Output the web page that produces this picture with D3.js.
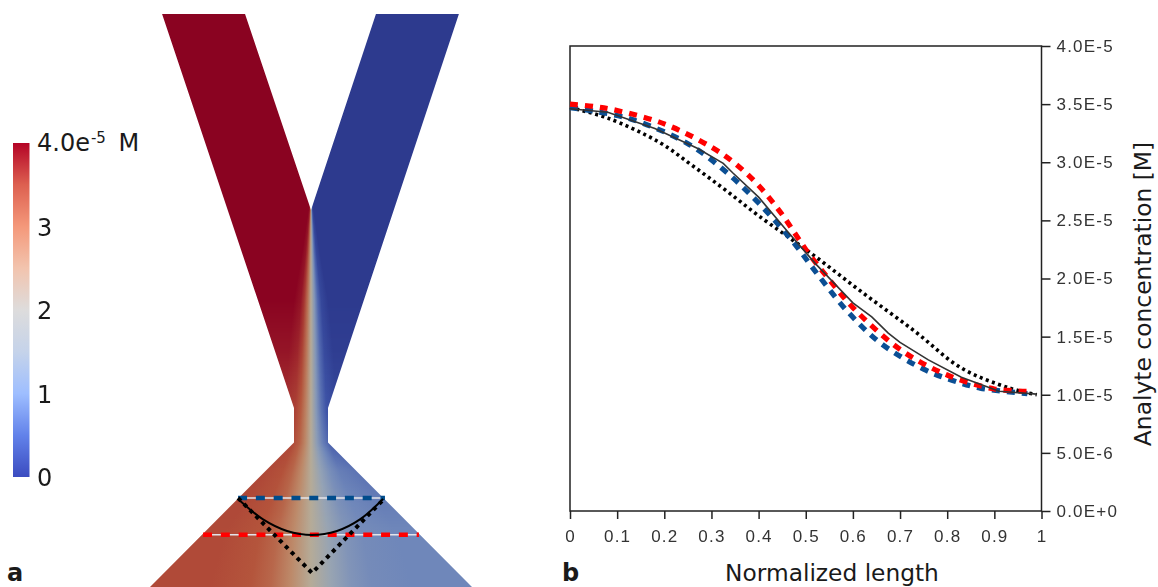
<!DOCTYPE html>
<html>
<head>
<meta charset="utf-8">
<script src="https://cdn.jsdelivr.net/npm/d3@7"></script>
<style>
  html, body { margin: 0; padding: 0; background: #fff; }
  svg { display: block; }
  .tick-label { font-family: "Liberation Sans", sans-serif; font-size: 17px; letter-spacing: 1.2px; fill: #333; }
  .big-label { font-family: "DejaVu Sans", sans-serif; fill: #1a1a1a; }
</style>
</head>
<body>
<svg id="chart" width="1158" height="587"></svg>
<script>
// ---- panel b values, normalized length vs concentration (in 1e-5 M)
const redX = [0, 0.05, 0.1, 0.2, 0.3, 0.35, 0.4, 0.45, 0.5, 0.55, 0.6, 0.7, 0.8, 0.9, 0.97];
const redY = [3.5, 3.48, 3.445, 3.33, 3.13, 2.99, 2.8, 2.55, 2.25, 1.99, 1.75, 1.39, 1.17, 1.05, 1.03];

const blueX = [0, 0.05, 0.13, 0.25, 0.33, 0.4, 0.47, 0.53, 0.59, 0.66, 0.75, 0.81, 0.87, 0.97];
const blueY = [3.47, 3.44, 3.37, 3.16, 2.92, 2.65, 2.33, 2.01, 1.71, 1.44, 1.22, 1.125, 1.057, 1.01];

const solidX = [0, 0.08, 0.18, 0.27, 0.325, 0.345, 0.4, 0.46, 0.52, 0.6, 0.64, 0.675, 0.7, 0.76, 0.83, 0.91, 0.99];
const solidY = [3.46, 3.43, 3.29, 3.12, 2.99, 2.91, 2.7, 2.41, 2.13, 1.79, 1.67, 1.53, 1.45, 1.3, 1.15, 1.03, 1.005];

const dotX = [0, 0.08, 0.19, 0.26, 0.33, 0.4, 0.51, 0.62, 0.73, 0.83, 0.93, 0.99];
const dotY = [3.47, 3.38, 3.17, 2.97, 2.76, 2.54, 2.22, 1.88, 1.55, 1.23, 1.06, 1.0];

const xTicks = [0, 0.1, 0.2, 0.3, 0.4, 0.5, 0.6, 0.7, 0.8, 0.9, 1];
const xTickLabels = ["0", "0.1", "0.2", "0.3", "0.4", "0.5", "0.6", "0.7", "0.8", "0.9", "1"];
const yTicks = [0, 0.5, 1, 1.5, 2, 2.5, 3, 3.5, 4];
const yTickLabels = ["0.0E+0", "5.0E-6", "1.0E-5", "1.5E-5", "2.0E-5", "2.5E-5", "3.0E-5", "3.5E-5", "4.0E-5"];

// ---- panel a colour bar
const barTicks = [0, 1, 2, 3];
const barStops = [0, 0.125, 0.25, 0.375, 0.5, 0.625, 0.75, 0.875, 1];
const barColors = ["#3b4cc0", "#6282ea", "#9ebeff", "#c5d3ea", "#dddcdc", "#f2c4ae", "#f4987a", "#dd6050", "#b40426"];

// ---- panel a channel, in throat half widths (u across, v down from the top)
const channelU = [-8.76, -3.88, 0, 3.82, 8.7, 1, 1, 9.47, -9.47, -1, -1];
const channelV = [0, 0, 11.53, 0, 0, 23.18, 25.2, 33.7, 33.7, 25.2, 23.18];

// mixing field, read along the channel
const fieldV = [11.5, 13.9, 16.8, 19.8, 23.2, 25.2, 26.8, 30.4, 33.8];
const fieldW = [0.06, 0.2, 0.4, 0.52, 0.6, 0.7, 1.1, 2.0, 2.4];
const fieldRed = [0.5, 0.5, 0.5, 0.46, 0.38, 0.36, 0.34, 0.33, 0.33];
const fieldBlue = [0.5, 0.5, 0.5, 0.49, 0.46, 0.42, 0.35, 0.3, 0.3];
const profileD = [-2.5, -1.5, -1, -0.5, 0, 0.5, 1, 1.5, 2.5];
const profileC = [-1, -0.92, -0.76, -0.45, 0, 0.45, 0.76, 0.92, 1];
const fieldStops = [0, 0.08, 0.2, 0.35, 0.5, 0.65, 0.8, 0.9, 1];
const fieldColors = ["#2d3a8e", "#3f55a8", "#6f87ba", "#95a3b5", "#b5ab98", "#bd8a6a", "#b5563c", "#a32f2f", "#8a0321"];

// lines drawn over the outlet
const blueCutU = [-4.29, 4.35], blueCutV = [28.47, 28.47];
const redCutU = [-6.35, 6.35], redCutV = [30.63, 30.63];
const arcU = [-4.29, -2.82, -1.41, 0.06, 1.53, 2.88, 4.24];
const arcV = [28.53, 29.73, 30.41, 30.65, 30.41, 29.73, 28.53];
const veeU = [-4.29, 0.06, 4.35];
const veeV = [28.47, 32.88, 28.47];

const svg = d3.select("#chart");
const defs = svg.append("defs");
const zip = (a, b) => a.map((d, i) => [d, b[i]]);

// ---------- panel a
const flowX = d3.scaleLinear().domain([-1, 1]).range([294, 328]);
const flowY = d3.scaleLinear().domain([0, 34]).range([14, 592]);
const fieldColor = d3.scaleLinear().domain(fieldStops).range(fieldColors);
const widthAt = d3.scaleLinear().domain(fieldV).range(fieldW).clamp(true);
const redAt = d3.scaleLinear().domain(fieldV).range(fieldRed).clamp(true);
const blueAt = d3.scaleLinear().domain(fieldV).range(fieldBlue).clamp(true);
const profile = d3.scaleLinear().domain(profileD).range(profileC).clamp(true);

const flowLine = d3.line().x(d => flowX(d[0])).y(d => flowY(d[1]));

defs.append("clipPath").attr("id", "channel")
  .append("path")
  .attr("d", flowLine(zip(channelU, channelV)) + "Z");

const panelA = svg.append("g").attr("class", "panel-a").style("filter", "blur(0.5px)");
const field = panelA.append("g").attr("clip-path", "url(#channel)");

// the field is painted row by row, each row with its own gradient across the channel
d3.range(14, 587).forEach(row => {
  const v = flowY.invert(row);
  const w = widthAt(v);
  const id = "row" + row;
  const grad = defs.append("linearGradient").attr("id", id)
    .attr("gradientUnits", "userSpaceOnUse")
    .attr("x1", flowX(-2.5 * w)).attr("x2", flowX(2.5 * w))
    .attr("y1", 0).attr("y2", 0);
  profileD.forEach(d => {
    const p = profile(d);
    // d < 0 is the left, red side
    const c = p < 0 ? 0.5 - redAt(v) * p : 0.5 - blueAt(v) * p;
    grad.append("stop")
      .attr("offset", (d - profileD[0]) / 5)
      .attr("stop-color", fieldColor(c));
  });
  field.append("rect")
    .attr("x", flowX(-10)).attr("width", flowX(10) - flowX(-10))
    .attr("y", row).attr("height", 1)
    .attr("shape-rendering", "crispEdges")
    .attr("fill", `url(#${id})`);
});

// cut lines with the pale core under the dashes
[[blueCutU, blueCutV, "#004c8c"], [redCutU, redCutV, "#ff0000"]].forEach(([u, v, col]) => {
  panelA.append("path").attr("d", flowLine(zip(u, v)))
    .attr("fill", "none").attr("stroke", "#e4e4ea").attr("stroke-width", 1.6);
  panelA.append("path").attr("d", flowLine(zip(u, v)))
    .attr("fill", "none").attr("stroke", col).attr("stroke-width", 4.5)
    .attr("stroke-dasharray", "9 8.8");
});

panelA.append("path")
  .attr("d", flowLine.curve(d3.curveCatmullRom)(zip(arcU, arcV)))
  .attr("fill", "none").attr("stroke", "#000").attr("stroke-width", 2);
flowLine.curve(d3.curveLinear);
panelA.append("path")
  .attr("d", flowLine(zip(veeU, veeV)))
  .attr("fill", "none").attr("stroke", "#000").attr("stroke-width", 4)
  .attr("stroke-dasharray", "4 4.4");

// colour bar
const barY = d3.scaleLinear().domain([0, 4]).range([477, 143]);
const barGrad = defs.append("linearGradient").attr("id", "barGrad")
  .attr("x1", 0).attr("x2", 0).attr("y1", 1).attr("y2", 0);
barStops.forEach((s, i) => {
  barGrad.append("stop").attr("offset", s).attr("stop-color", barColors[i]);
});
panelA.append("rect")
  .attr("x", 13).attr("y", barY(4))
  .attr("width", 16.5).attr("height", barY(0) - barY(4))
  .attr("fill", "url(#barGrad)");

panelA.selectAll(".bar-label").data(barTicks).join("text")
  .attr("class", "big-label bar-label")
  .attr("x", 37).attr("y", d => barY(d) + 9)
  .style("font-size", "24px")
  .text(d => d);

const topLabel = svg.append("text").attr("class", "big-label")
  .attr("x", 37).attr("y", barY(4) + 8)
  .style("font-size", "24px");
topLabel.append("tspan").text("4.0e");
topLabel.append("tspan").attr("dy", -8).attr("dx", 1).style("font-size", "15px").text("-5");
topLabel.append("tspan").attr("dy", 8).attr("dx", 5).text(" M");

svg.append("text").attr("class", "big-label")
  .attr("x", 7).attr("y", 581)
  .style("font-size", "24px").style("font-weight", "bold").text("a");

// ---------- panel b
const x = d3.scaleLinear().domain([0, 1]).range([570, 1041.5]);
const y = d3.scaleLinear().domain([0, 4]).range([511, 46]);

const panelB = svg.append("g").attr("class", "panel-b").style("filter", "blur(0.55px)");

panelB.append("rect")
  .attr("x", x(0)).attr("y", y(4))
  .attr("width", x(1) - x(0)).attr("height", y(0) - y(4))
  .attr("fill", "none").attr("stroke", "#222").attr("stroke-width", 1.5);

const xAxis = d3.axisBottom(x).tickValues(xTicks).tickSize(8).tickPadding(11)
  .tickFormat((d, i) => xTickLabels[i]);
const yAxis = d3.axisRight(y).tickValues(yTicks).tickSize(9).tickPadding(6)
  .tickFormat((d, i) => yTickLabels[i]);

const gx = panelB.append("g").attr("transform", `translate(0,${y(0)})`).call(xAxis);
const gy = panelB.append("g").attr("transform", `translate(${x(1)},0)`).call(yAxis);
[gx, gy].forEach(g => {
  g.select(".domain").remove();
  g.selectAll("line").attr("stroke", "#222").attr("stroke-width", 1.5);
  g.selectAll("text").attr("class", "tick-label").attr("fill", null);
});

const curve = d3.line().x(d => x(d[0])).y(d => y(d[1])).curve(d3.curveCatmullRom);
const straight = d3.line().x(d => x(d[0])).y(d => y(d[1]));

panelB.append("path").attr("d", curve(zip(dotX, dotY)))
  .attr("fill", "none").attr("stroke", "#000").attr("stroke-width", 3.6)
  .attr("stroke-dasharray", "3 3.5");
panelB.append("path").attr("d", curve(zip(blueX, blueY)))
  .attr("fill", "none").attr("stroke", "#0b4f94").attr("stroke-width", 5.2)
  .attr("stroke-dasharray", "8 7");
panelB.append("path").attr("d", curve(zip(redX, redY)))
  .attr("fill", "none").attr("stroke", "#ff0000").attr("stroke-width", 5.2)
  .attr("stroke-dasharray", "8 7");
panelB.append("path").attr("d", straight(zip(solidX, solidY)))
  .attr("fill", "none").attr("stroke", "#333").attr("stroke-width", 1.6);

svg.append("text").attr("class", "big-label")
  .attr("x", 832).attr("y", 581).attr("text-anchor", "middle")
  .style("font-size", "23.3px").text("Normalized length");

svg.append("text").attr("class", "big-label")
  .attr("transform", "translate(1151,294) rotate(-90)")
  .attr("text-anchor", "middle")
  .style("font-size", "23.4px").text("Analyte concentration [M]");

svg.append("text").attr("class", "big-label")
  .attr("x", 562).attr("y", 581)
  .style("font-size", "24px").style("font-weight", "bold").text("b");
</script>
</body>
</html>
